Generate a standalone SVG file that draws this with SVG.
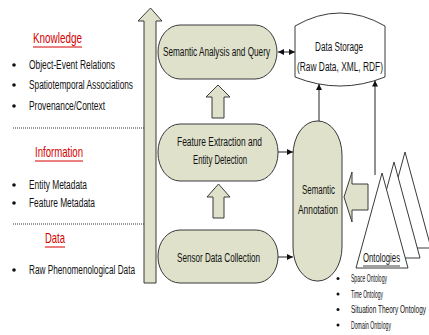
<svg xmlns="http://www.w3.org/2000/svg" width="429" height="335" viewBox="0 0 429 335">
  <defs>
    <style>
      .t { font-family: "Liberation Sans", Arial, sans-serif; fill: #111; }
      .box { fill: #dfe1cb; stroke: #3a3a3a; stroke-width: 1; }
      .blk { fill: #dfe1cb; stroke: #3a3a3a; stroke-width: 1; }
      .tri { fill: #ffffff; stroke: #3a3a3a; stroke-width: 1; }
      .head { font-family: "Liberation Sans", Arial, sans-serif; fill: #d40000; font-size: 15px; }
      .ul { stroke: #d40000; stroke-width: 1; }
      .dot { stroke: #333; stroke-width: 1; stroke-dasharray: 1 1; }
      .con { stroke: #222; stroke-width: 1; fill: none; }
    </style>
    <marker id="ah" viewBox="0 0 10 10" refX="10" refY="5" markerWidth="6" markerHeight="6" orient="auto-start-reverse" markerUnits="userSpaceOnUse">
      <path d="M0,0 L10,5 L0,10 Z" fill="#111"/>
    </marker>
  </defs>
  <rect width="429" height="335" fill="#ffffff"/>

  <!-- layer legend on the left -->
  <g id="legend">
    <text class="head" x="33" y="43.3" textLength="49" lengthAdjust="spacingAndGlyphs">Knowledge</text>
    <line class="ul" x1="33" y1="47" x2="82" y2="47"/>
    <circle cx="14" cy="65" r="1.8" fill="#111"/>
    <text class="t" font-size="12.5" x="29" y="69.4" textLength="86" lengthAdjust="spacingAndGlyphs">Object-Event Relations</text>
    <circle cx="14" cy="85" r="1.8" fill="#111"/>
    <text class="t" font-size="12.5" x="29" y="89.4" textLength="104" lengthAdjust="spacingAndGlyphs">Spatiotemporal Associations</text>
    <circle cx="14" cy="106" r="1.8" fill="#111"/>
    <text class="t" font-size="12.5" x="29" y="110.4" textLength="76" lengthAdjust="spacingAndGlyphs">Provenance/Context</text>
    <line class="dot" x1="13" y1="128" x2="144" y2="128"/>

    <text class="head" x="35" y="157.3" textLength="48" lengthAdjust="spacingAndGlyphs">Information</text>
    <line class="ul" x1="35" y1="161" x2="83" y2="161"/>
    <circle cx="14" cy="185" r="1.8" fill="#111"/>
    <text class="t" font-size="12.5" x="29" y="189.4" textLength="58" lengthAdjust="spacingAndGlyphs">Entity Metadata</text>
    <circle cx="14" cy="203" r="1.8" fill="#111"/>
    <text class="t" font-size="12.5" x="29" y="207.4" textLength="66" lengthAdjust="spacingAndGlyphs">Feature Metadata</text>
    <line class="dot" x1="13" y1="224" x2="144" y2="224"/>

    <text class="head" x="45" y="243.3" textLength="20" lengthAdjust="spacingAndGlyphs">Data</text>
    <line class="ul" x1="45" y1="247" x2="65" y2="247"/>
    <circle cx="14" cy="270" r="1.8" fill="#111"/>
    <text class="t" font-size="12.5" x="29" y="274.4" textLength="106" lengthAdjust="spacingAndGlyphs">Raw Phenomenological Data</text>
  </g>

  <!-- tall upward arrow beside the processing stack -->
  <g id="levelArrow">
    <path class="blk" d="M144,283 L144,21 L138,21 L150.5,8 L162,21 L156,21 L156,283 Z"/>
  </g>

  <g id="analysis">
    <rect class="box" x="158" y="25" width="119" height="54" rx="22" ry="27"/>
    <text class="t" font-size="12.5" x="216.5" y="56.4" text-anchor="middle" textLength="107" lengthAdjust="spacingAndGlyphs">Semantic Analysis and Query</text>
  </g>

  <g id="extraction">
    <rect class="box" x="158" y="124" width="120" height="57" rx="22" ry="28"/>
    <text class="t" font-size="12.5" x="219.5" y="146.4" text-anchor="middle" textLength="85" lengthAdjust="spacingAndGlyphs">Feature Extraction and</text>
    <text class="t" font-size="12.5" x="220" y="164.4" text-anchor="middle" textLength="54" lengthAdjust="spacingAndGlyphs">Entity Detection</text>
  </g>

  <g id="collection">
    <rect class="box" x="158" y="230" width="120" height="53" rx="22" ry="26"/>
    <text class="t" font-size="12.5" x="218.5" y="262.4" text-anchor="middle" textLength="83" lengthAdjust="spacingAndGlyphs">Sensor Data Collection</text>
  </g>

  <g id="annotation">
    <rect class="box" x="293" y="121" width="49" height="160" rx="24" ry="34"/>
    <text class="t" font-size="12.5" x="318.5" y="194.4" text-anchor="middle" textLength="33" lengthAdjust="spacingAndGlyphs">Semantic</text>
    <text class="t" font-size="12.5" x="318" y="214.4" text-anchor="middle" textLength="40" lengthAdjust="spacingAndGlyphs">Annotation</text>
  </g>

  <g id="storage">
    <path d="M295,26 Q340,0 385,26 L385,77 Q340,95 295,77 Z" fill="#ffffff" stroke="#3a3a3a" stroke-width="1"/>
    <text class="t" font-size="12" x="339" y="51.3" text-anchor="middle" textLength="48" lengthAdjust="spacingAndGlyphs">Data Storage</text>
    <text class="t" font-size="12" x="340" y="71.3" text-anchor="middle" textLength="86" lengthAdjust="spacingAndGlyphs">(Raw Data, XML, RDF)</text>
  </g>

  <g id="ontologies">
    <path class="tri" d="M405,152 L431,248 L379,248 Z"/>
    <path class="tri" d="M394,162 L420,258 L368,258 Z"/>
    <path class="tri" d="M382,173 L408,268 L356,268 Z"/>
    <text class="t" font-size="12.5" x="381.5" y="262.4" text-anchor="middle" textLength="37" lengthAdjust="spacingAndGlyphs">Ontologies</text>
    <line stroke="#111" stroke-width="0.8" x1="363" y1="266" x2="400" y2="266"/>
    <circle cx="338" cy="278.5" r="1.5" fill="#111"/>
    <text class="t" font-size="10.5" x="351" y="282.2" textLength="36" lengthAdjust="spacingAndGlyphs">Space Ontology</text>
    <circle cx="338" cy="294" r="1.5" fill="#111"/>
    <text class="t" font-size="10.5" x="351" y="297.7" textLength="32" lengthAdjust="spacingAndGlyphs">Time Ontology</text>
    <circle cx="338" cy="309.5" r="1.5" fill="#111"/>
    <text class="t" font-size="10.5" x="351" y="313.2" textLength="75" lengthAdjust="spacingAndGlyphs">Situation Theory Ontology</text>
    <circle cx="338" cy="325" r="1.5" fill="#111"/>
    <text class="t" font-size="10.5" x="351" y="328.7" textLength="40" lengthAdjust="spacingAndGlyphs">Domain Ontology</text>
  </g>

  <g id="connectors">
    <!-- block arrows between stages -->
    <path class="blk" d="M212,118 L212,97 L206,97 L218,85 L230,97 L224,97 L224,118 Z"/>
    <path class="blk" d="M213,218 L213,197 L207,197 L218.5,184 L230,197 L224,197 L224,218 Z"/>
    <path class="blk" d="M344,197 L352,172 L352,184 L368,184 L368,210 L352,210 L352,222 Z"/>
    <!-- line arrows -->
    <line class="con" x1="278" y1="52" x2="295" y2="52" marker-start="url(#ah)" marker-end="url(#ah)"/>
    <line class="con" x1="278" y1="152" x2="293" y2="152" marker-end="url(#ah)"/>
    <line class="con" x1="278" y1="257" x2="293" y2="257" marker-end="url(#ah)"/>
    <line class="con" x1="319" y1="121" x2="319" y2="84" marker-end="url(#ah)"/>
    <line class="con" x1="375" y1="175" x2="375" y2="80.5" marker-end="url(#ah)"/>
  </g>
</svg>
